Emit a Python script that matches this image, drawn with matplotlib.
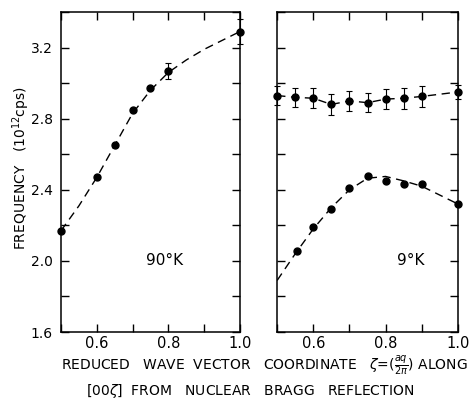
import matplotlib
matplotlib.use("Agg")
import matplotlib.pyplot as plt
from matplotlib.ticker import MultipleLocator, FixedLocator

# 90 K branch (left panel)
zeta_90 = [0.5, 0.6, 0.65, 0.7, 0.75, 0.8, 1.0]
freq_90 = [2.17, 2.47, 2.65, 2.85, 2.97, 3.07, 3.29]
err_90 = [0, 0, 0, 0, 0, 0.045, 0.07]
curve_90_x = [0.5, 0.55, 0.6, 0.65, 0.7, 0.75, 0.8, 0.85, 0.9, 0.95, 1.0]
curve_90_y = [2.17, 2.31, 2.47, 2.65, 2.83, 2.96, 3.06, 3.13, 3.19, 3.24, 3.29]

# 9 K branches (right panel)
zeta_9up = [0.5, 0.55, 0.6, 0.65, 0.7, 0.75, 0.8, 0.85, 0.9, 1.0]
freq_9up = [2.93, 2.92, 2.915, 2.88, 2.90, 2.89, 2.91, 2.915, 2.925, 2.95]
err_9up = [0.055, 0.055, 0.055, 0.06, 0.055, 0.055, 0.055, 0.06, 0.06, 0.04]

zeta_9lo = [0.555, 0.6, 0.65, 0.7, 0.75, 0.8, 0.85, 0.9, 1.0]
freq_9lo = [2.055, 2.19, 2.29, 2.41, 2.48, 2.45, 2.43, 2.435, 2.32]
curve_9lo_x = [0.5, 0.55, 0.6, 0.65, 0.7, 0.75, 0.8, 0.85, 0.9, 0.95, 1.0]
curve_9lo_y = [1.89, 2.04, 2.18, 2.30, 2.40, 2.465, 2.475, 2.45, 2.42, 2.37, 2.32]

plt.rcParams['font.family'] = 'DejaVu Sans'
fig = plt.figure(figsize=(4.77, 4.0), dpi=100)
ax = fig.add_axes([0.128, 0.17, 0.375, 0.8])
bx = fig.add_axes([0.581, 0.17, 0.379, 0.8])

dash = (0, (6, 4))
for a in (ax, bx):
    a.set_xlim(0.5, 1.0)
    a.set_ylim(1.6, 3.4)
    a.xaxis.set_major_locator(FixedLocator([0.6, 0.8, 1.0]))
    a.xaxis.set_minor_locator(FixedLocator([0.5, 0.7, 0.9]))
    a.yaxis.set_major_locator(FixedLocator([1.6, 2.0, 2.4, 2.8, 3.2]))
    a.yaxis.set_minor_locator(MultipleLocator(0.2))
    a.tick_params(which='both', direction='in', top=True, right=True,
                  length=6, width=1.0, labelsize=10, pad=6)
    a.tick_params(axis='x', pad=3, labelsize=10.5)
    for s in a.spines.values():
        s.set_linewidth(1.1)
    a.xaxis.set_major_formatter(plt.FuncFormatter(lambda v, p: f"{v:.1f}"))

bx.tick_params(axis='y', labelleft=False)

ax.plot(curve_90_x, curve_90_y, color='black', lw=1, linestyle=dash)
ax.errorbar(zeta_90, freq_90, yerr=err_90, fmt='o', color='black',
            ms=5, capsize=2, elinewidth=0.8, capthick=0.8, clip_on=False, zorder=3)
ax.text(0.79, 2.0, "90°K", ha='center', va='center', fontsize=11)

bx.plot(zeta_9up, freq_9up, color='black', lw=1, linestyle=dash)
bx.errorbar(zeta_9up, freq_9up, yerr=err_9up, fmt='o', color='black',
            ms=5, capsize=2, elinewidth=0.8, capthick=0.8, clip_on=False, zorder=3)
bx.plot(curve_9lo_x, curve_9lo_y, color='black', lw=1, linestyle=dash)
bx.plot(zeta_9lo, freq_9lo, 'o', color='black', ms=5, clip_on=False, zorder=3)
bx.text(0.87, 2.0, "9°K", ha='center', va='center', fontsize=11)

fig.text(0.044, 0.58, "FREQUENCY   (10$^{12}$cps)", rotation=90,
         ha='center', va='center', fontsize=10)

fig.text(0.555, 0.088, r"REDUCED   WAVE  VECTOR   COORDINATE   $\zeta$=($\frac{aq}{2\pi}$) ALONG",
         ha='center', va='center', fontsize=10)
fig.text(0.525, 0.022, r"[00$\zeta$]  FROM   NUCLEAR   BRAGG   REFLECTION",
         ha='center', va='center', fontsize=10)

fig.savefig("out.png", dpi=100)
